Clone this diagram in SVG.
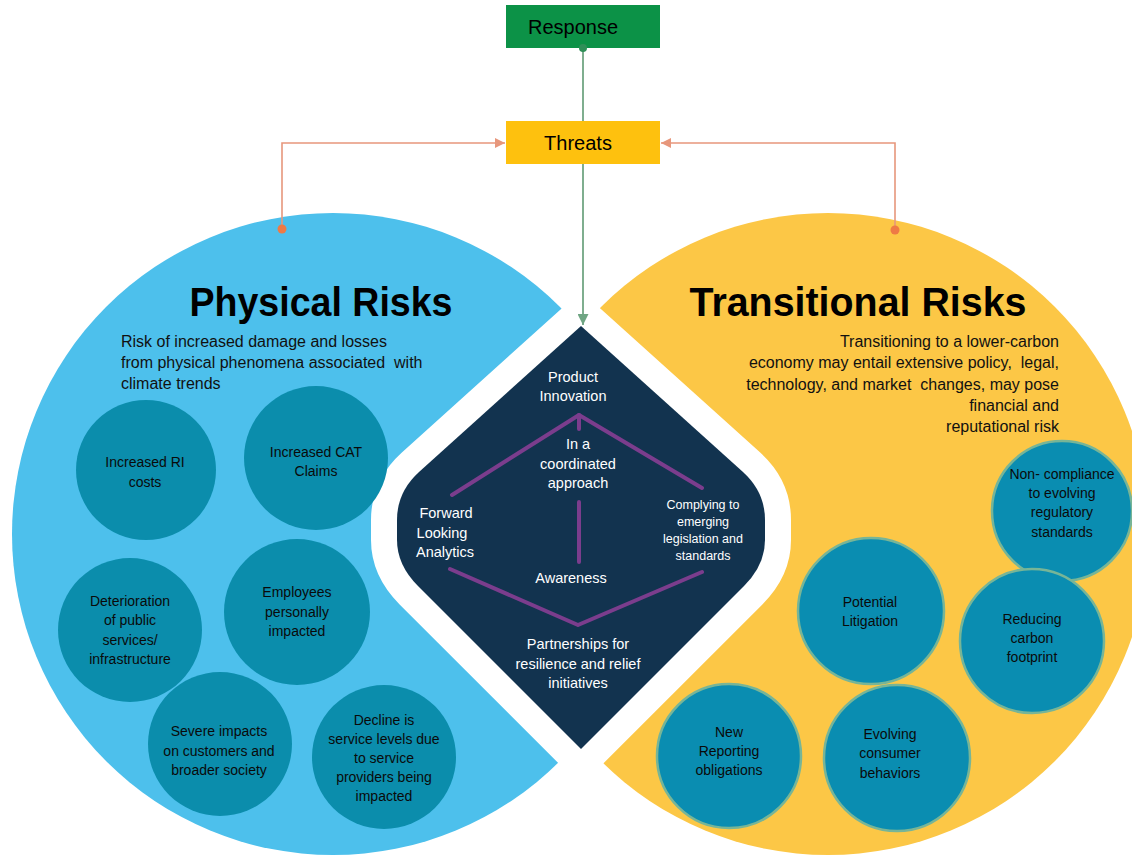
<svg xmlns="http://www.w3.org/2000/svg" width="1132" height="856" viewBox="0 0 1132 856">
  <defs>
    <style>
      .t{font-family:"Liberation Sans",Arial,sans-serif;text-anchor:middle}
      .box{font-size:20px;fill:#000}
      .title{font-size:41px;font-weight:bold;fill:#000}
      .desc{font-family:"Liberation Sans",Arial,sans-serif;font-size:16px;fill:#111;white-space:pre}
      .dk{font-size:14px;fill:#0a0a0a}
      .wt{font-size:14.5px;fill:#fff}
      .wt2{font-size:12.5px;fill:#fff}
      .lc{fill:#0b8dac}
      .rc{fill:#0a8db1;stroke:#77b597;stroke-width:2.5}
      .pl{stroke:#7b3d8d;stroke-width:4;fill:none;stroke-linecap:round;stroke-linejoin:round}
      .og{stroke:#e7977c;stroke-width:1.6;fill:none}
      .gr{stroke:#7fae8f;stroke-width:2;fill:none}
    </style>
    <marker id="arrOrange" viewBox="0 0 10 10" refX="10" refY="5" markerUnits="userSpaceOnUse" markerWidth="11" markerHeight="10" orient="auto">
      <path d="M0,0 L10,5 L0,10 z" fill="#e7977c"/>
    </marker>
    <marker id="arrGreen" viewBox="0 0 10 10" refX="10" refY="5" markerUnits="userSpaceOnUse" markerWidth="11" markerHeight="11" orient="auto">
      <path d="M0,0 L10,5 L0,10 z" fill="#6fa583"/>
    </marker>
  </defs>

  <rect width="1132" height="856" fill="#fff"/>

  <!-- physical risks half -->
  <g id="physical-risks">
    <circle cx="333" cy="534" r="321" fill="#4dc0ec"/>
  </g>

  <!-- transitional risks half -->
  <g id="transitional-risks">
    <circle cx="828" cy="534" r="321" fill="#fcc746"/>
  </g>

  <!-- central response diamond with white separating band -->
  <g id="response-diamond">
    <path d="M581,326 L419,472 Q397,492 397,520 L397,540 Q397,565 418,586 L581,749 L744,586 Q765,565 765,540 L765,520 Q765,492 743,472 Z" fill="#fff" stroke="#fff" stroke-width="52" stroke-linejoin="round"/>
    <path d="M581,326 L419,472 Q397,492 397,520 L397,540 Q397,565 418,586 L581,749 L744,586 Q765,565 765,540 L765,520 Q765,492 743,472 Z" fill="#12334f"/>
    <path class="pl" d="M452,495 L579,415 L702,488"/>
    <path class="pl" d="M579,415 L579,429" stroke-width="6"/>
    <path class="pl" d="M579,502 L579,562"/>
    <path class="pl" d="M450,569 L578,625 L702,572"/>
    <text class="t wt"><tspan x="573" y="382">Product</tspan><tspan x="573" y="401">Innovation</tspan></text>
    <text class="t wt"><tspan x="578" y="449">In a</tspan><tspan x="578" y="469">coordinated</tspan><tspan x="578" y="488">approach</tspan></text>
    <text class="t wt"><tspan x="446" y="518">Forward</tspan><tspan x="442" y="538">Looking</tspan><tspan x="445" y="557">Analytics</tspan></text>
    <text class="t wt2"><tspan x="703" y="509">Complying to</tspan><tspan x="703" y="526">emerging</tspan><tspan x="703" y="543">legislation and</tspan><tspan x="703" y="560">standards</tspan></text>
    <text class="t wt"><tspan x="571" y="583">Awareness</tspan></text>
    <text class="t wt"><tspan x="578" y="649">Partnerships for</tspan><tspan x="578" y="669">resilience and relief</tspan><tspan x="578" y="688">initiatives</tspan></text>
  </g>

  <!-- physical risks heading and items -->
  <g id="physical-heading">
    <text class="t title" x="321" y="316" textLength="263" lengthAdjust="spacingAndGlyphs">Physical Risks</text>
    <text class="desc"><tspan x="121" y="347">Risk of increased damage and losses</tspan><tspan x="121" y="368">from physical phenomena associated  with</tspan><tspan x="121" y="389">climate trends</tspan></text>
  </g>
  <g id="p-ri-costs">
    <circle class="lc" cx="146" cy="470" r="70"/>
    <text class="t dk"><tspan x="145" y="467">Increased RI</tspan><tspan x="145" y="487">costs</tspan></text>
  </g>
  <g id="p-cat-claims">
    <circle class="lc" cx="316" cy="458" r="72"/>
    <text class="t dk"><tspan x="316" y="457">Increased CAT</tspan><tspan x="316" y="476">Claims</tspan></text>
  </g>
  <g id="p-public-services">
    <circle class="lc" cx="130" cy="630" r="72"/>
    <text class="t dk"><tspan x="130" y="606">Deterioration</tspan><tspan x="130" y="625">of public</tspan><tspan x="130" y="645">services/</tspan><tspan x="130" y="664">infrastructure</tspan></text>
  </g>
  <g id="p-employees">
    <circle class="lc" cx="297" cy="612" r="73"/>
    <text class="t dk"><tspan x="297" y="597">Employees</tspan><tspan x="297" y="617">personally</tspan><tspan x="297" y="636">impacted</tspan></text>
  </g>
  <g id="p-customers">
    <circle class="lc" cx="220" cy="744" r="72"/>
    <text class="t dk"><tspan x="219" y="736">Severe impacts</tspan><tspan x="219" y="756">on customers and</tspan><tspan x="219" y="775">broader society</tspan></text>
  </g>
  <g id="p-service-levels">
    <circle class="lc" cx="384" cy="757" r="72"/>
    <text class="t dk"><tspan x="384" y="725">Decline is</tspan><tspan x="384" y="744">service levels due</tspan><tspan x="384" y="763">to service</tspan><tspan x="384" y="782">providers being</tspan><tspan x="384" y="801">impacted</tspan></text>
  </g>

  <!-- transitional risks heading and items -->
  <g id="transitional-heading">
    <text class="t title" x="858" y="316" textLength="337" lengthAdjust="spacingAndGlyphs">Transitional Risks</text>
    <text class="desc" text-anchor="end"><tspan x="1059" y="347">Transitioning to a lower-carbon</tspan><tspan x="1059" y="368">economy may entail extensive policy,  legal,</tspan><tspan x="1059" y="390">technology, and market  changes, may pose</tspan><tspan x="1059" y="411">financial and</tspan><tspan x="1059" y="432">reputational risk</tspan></text>
  </g>
  <g id="t-non-compliance">
    <circle class="rc" cx="1062" cy="511" r="70"/>
    <text class="t dk"><tspan x="1062" y="479">Non- compliance</tspan><tspan x="1062" y="498">to evolving</tspan><tspan x="1062" y="517">regulatory</tspan><tspan x="1062" y="537">standards</tspan></text>
  </g>
  <g id="t-litigation">
    <circle class="rc" cx="871" cy="611" r="73"/>
    <text class="t dk"><tspan x="870" y="607">Potential</tspan><tspan x="870" y="626">Litigation</tspan></text>
  </g>
  <g id="t-carbon">
    <circle class="rc" cx="1032" cy="641" r="72"/>
    <text class="t dk"><tspan x="1032" y="624">Reducing</tspan><tspan x="1032" y="643">carbon</tspan><tspan x="1032" y="662">footprint</tspan></text>
  </g>
  <g id="t-reporting">
    <circle class="rc" cx="729" cy="756" r="72"/>
    <text class="t dk"><tspan x="729" y="737">New</tspan><tspan x="729" y="756">Reporting</tspan><tspan x="729" y="775">obligations</tspan></text>
  </g>
  <g id="t-consumer">
    <circle class="rc" cx="897" cy="758" r="73"/>
    <text class="t dk"><tspan x="890" y="739">Evolving</tspan><tspan x="890" y="758">consumer</tspan><tspan x="890" y="778">behaviors</tspan></text>
  </g>

  <!-- top boxes -->
  <g id="response">
    <rect x="506" y="5" width="154" height="43" fill="#0c9247"/>
    <text class="t box" x="573" y="34">Response</text>
  </g>
  <g id="threats">
    <rect x="506" y="121" width="154" height="43" fill="#fec10e"/>
    <text class="t box" x="578" y="150">Threats</text>
  </g>

  <!-- connectors -->
  <g id="connectors">
    <line class="gr" x1="583" y1="48" x2="583" y2="121"/>
    <circle cx="583" cy="48" r="4" fill="#2f8f58"/>
    <line class="gr" x1="583" y1="164" x2="583" y2="325" marker-end="url(#arrGreen)"/>
    <path class="og" d="M282,229 V143 H505" marker-end="url(#arrOrange)"/>
    <circle cx="282" cy="229" r="4.5" fill="#ee7a45"/>
    <path class="og" d="M895,230 V143 H661" marker-end="url(#arrOrange)"/>
    <circle cx="895" cy="230" r="4.5" fill="#ee7a45"/>
  </g>
</svg>
